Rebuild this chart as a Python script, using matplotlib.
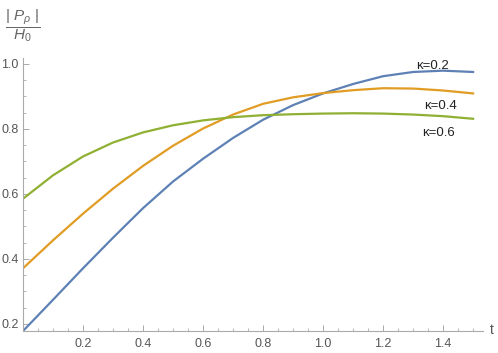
import matplotlib
matplotlib.use('Agg')
import matplotlib.pyplot as plt
from matplotlib.ticker import MultipleLocator

plt.rcParams['font.family'] = ['Liberation Sans', 'DejaVu Sans']
plt.rcParams['mathtext.fontset'] = 'custom'
plt.rcParams['mathtext.rm'] = 'Liberation Sans'
plt.rcParams['mathtext.it'] = 'Liberation Sans:italic'

# values
t = [0.0, 0.1, 0.2, 0.3, 0.4, 0.5, 0.6, 0.7, 0.8, 0.9, 1.0, 1.1, 1.2, 1.3, 1.4, 1.5]
kappa_02 = [0.178, 0.274, 0.371, 0.465, 0.556, 0.638, 0.708, 0.772, 0.828, 0.873, 0.909,
            0.938, 0.962, 0.975, 0.979, 0.975]
kappa_04 = [0.371, 0.457, 0.539, 0.616, 0.686, 0.748, 0.801, 0.844, 0.877, 0.897, 0.910,
            0.919, 0.925, 0.924, 0.918, 0.909]
kappa_06 = [0.585, 0.657, 0.715, 0.758, 0.789, 0.811, 0.826, 0.836, 0.842, 0.845, 0.847,
            0.848, 0.847, 0.844, 0.839, 0.831]
labels = ['κ=0.2', 'κ=0.4', 'κ=0.6']

fig = plt.figure(figsize=(4.98, 3.53), dpi=100)
ax = fig.add_axes([23 / 498, 22 / 353, 460 / 498, 273 / 353])

ax.plot(t, kappa_02, color='#5E81B5', lw=1.6)
ax.plot(t, kappa_04, color='#E19C24', lw=1.6)
ax.plot(t, kappa_06, color='#8FB032', lw=1.6)

ax.text(1.365, 0.992, labels[0], fontsize=9.5, ha='center', va='center', color='#222222')
ax.text(1.39, 0.870, labels[1], fontsize=9.5, ha='center', va='center', color='#222222')
ax.text(1.385, 0.787, labels[2], fontsize=9.5, ha='center', va='center', color='#222222')

ax.set_xlim(0, 1.533)
ax.set_ylim(0.178, 1.018)

for s in ['top', 'right']:
    ax.spines[s].set_visible(False)
for s in ['left', 'bottom']:
    ax.spines[s].set_color('#aaaaaa')
    ax.spines[s].set_linewidth(0.8)

ax.xaxis.set_major_locator(MultipleLocator(0.2))
ax.xaxis.set_minor_locator(MultipleLocator(0.05))
ax.yaxis.set_major_locator(MultipleLocator(0.2))
ax.yaxis.set_minor_locator(MultipleLocator(0.05))
ax.tick_params(which='both', direction='in', color='#aaaaaa', labelcolor='#555555', labelsize=9)
ax.tick_params(which='major', length=4, width=0.7)
ax.tick_params(which='minor', length=2, width=0.6)
ax.tick_params(axis='x', pad=5)
ax.tick_params(axis='y', pad=3)
ax.set_xticks([0.2, 0.4, 0.6, 0.8, 1.0, 1.2, 1.4])
ax.set_xticklabels(['0.2', '0.4', '0.6', '0.8', '1.0', '1.2', '1.4'])
ax.set_yticks([0.2, 0.4, 0.6, 0.8, 1.0])
ax.set_yticklabels(['0.2', '0.4', '0.6', '0.8', '1.0'])

fig.text(23 / 498, 1 - 26 / 353, r'$\dfrac{|\ P_\rho\ |}{H_0}$', fontsize=11,
         ha='center', va='center', color='#666666')
fig.text(492 / 498, 1 - 330 / 353, 't', fontsize=10, ha='center', va='center', color='#555555')

fig.savefig('out.png', dpi=100)
